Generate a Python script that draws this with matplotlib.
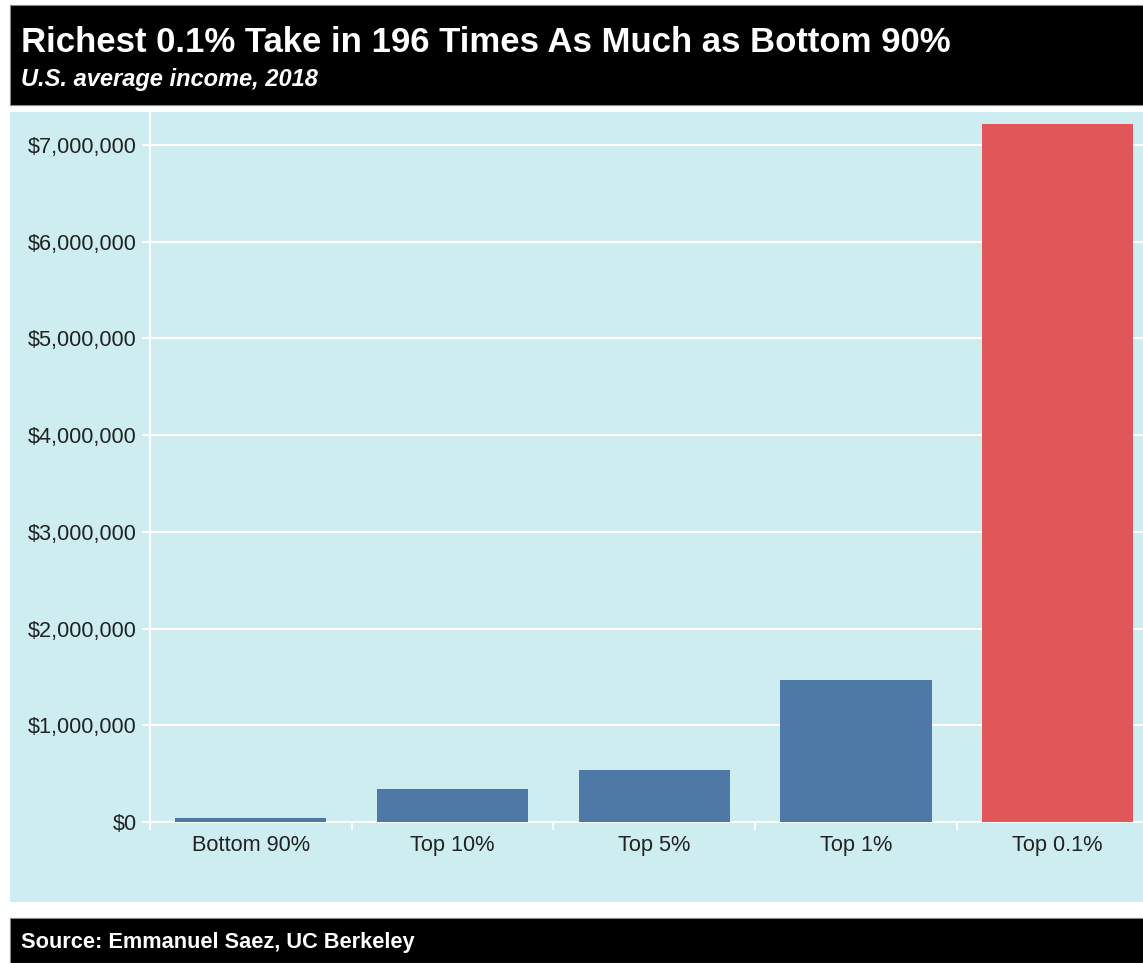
import matplotlib.pyplot as plt
from matplotlib.patches import Rectangle
from matplotlib.ticker import FuncFormatter

plt.rcParams['font.family'] = ['Liberation Sans', 'DejaVu Sans']

groups = ["Bottom 90%", "Top 10%", "Top 5%", "Top 1%", "Top 0.1%"]
income = [36800, 340000, 540000, 1470000, 7220000]
bar_colors = ["#4e79a7", "#4e79a7", "#4e79a7", "#4e79a7", "#e15759"]

W, H = 1143, 963
fig = plt.figure(figsize=(W / 100, H / 100), dpi=100)


def fx(px):
    return px / W


def fy(py):
    return 1 - py / H


# header, panel and footer boxes (pixel coords of the reference)
fig.patches.append(Rectangle((fx(10), fy(105)), fx(1143) - fx(10), 100 / H,
                             transform=fig.transFigure, facecolor="black",
                             edgecolor="#888888", lw=0.8, zorder=-10))
fig.patches.append(Rectangle((fx(10), fy(902)), fx(1143) - fx(10), (902 - 112) / H,
                             transform=fig.transFigure, facecolor="#cdedf0",
                             edgecolor="none", zorder=-10))
fig.patches.append(Rectangle((fx(10), fy(963)), fx(1143) - fx(10), (963 - 918) / H,
                             transform=fig.transFigure, facecolor="black",
                             edgecolor="#888888", lw=0.8, zorder=-10))

fig.text(fx(21), fy(52), "Richest 0.1% Take in 196 Times As Much as Bottom 90%",
         color="white", fontsize=25, fontweight="bold", va="baseline")
fig.text(fx(21), fy(86), "U.S. average income, 2018", color="white",
         fontsize=17, fontweight="bold", style="italic", va="baseline")
fig.text(fx(21), fy(948), "Source: Emmanuel Saez, UC Berkeley", color="white",
         fontsize=15.7, fontweight="bold", va="baseline")

ax = fig.add_axes([fx(150), fy(822), (1143 - 150) / W, (822 - 112) / H])
ax.set_facecolor("none")

x = list(range(1, len(groups) + 1))
ax.bar(x, income, width=0.75, color=bar_colors, zorder=3)

ax.set_yticks([i * 1e6 for i in range(8)])
ax.yaxis.set_major_formatter(FuncFormatter(lambda v, p: "${:,.0f}".format(v)))
ax.set_xticks(x)
ax.set_xticklabels(groups)
ax.set_xticks([i + 0.5 for i in range(0, 5)], minor=True)
ax.set_xlim(0.5, 0.5 + (1143 - 150) / 201.7)
ax.set_ylim(0, 7.34e6)

ax.grid(axis="y", color="white", lw=1.5, zorder=1)
ax.tick_params(axis="y", colors="white", labelcolor="#222222", labelsize=15.6,
               length=6, width=1.5, pad=3.5)
ax.tick_params(axis="x", which="major", length=0, labelcolor="#222222",
               labelsize=15.7, pad=9)
ax.tick_params(axis="x", which="minor", colors="white", length=6, width=1.5)

for side in ["top", "right"]:
    ax.spines[side].set_visible(False)
for side in ["left", "bottom"]:
    ax.spines[side].set_color("white")
    ax.spines[side].set_linewidth(1.5)

fig.savefig("out.png", dpi=100)
